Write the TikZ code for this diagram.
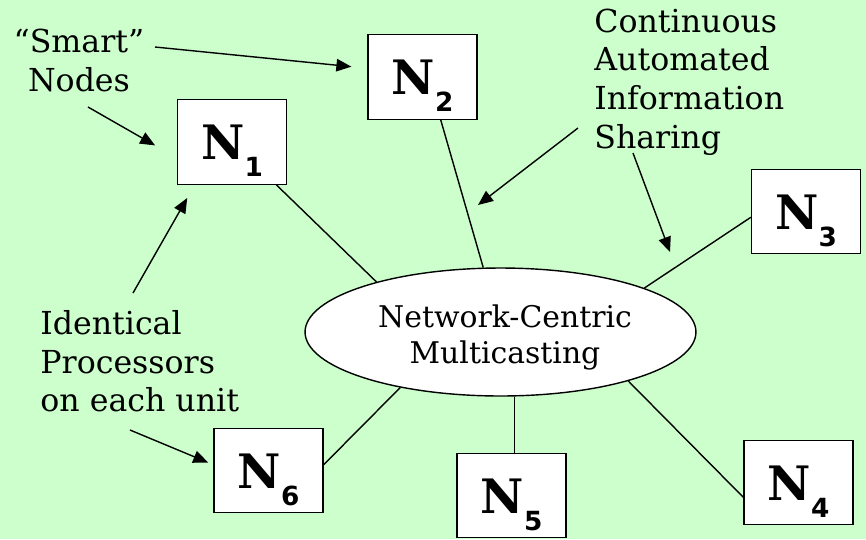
\documentclass[tikz,border=0pt]{standalone}
\usepackage{fontspec}
\setmainfont{DejaVu Serif}
\newfontfamily\idxfont{DejaVu Sans}
\usetikzlibrary{arrows.meta,shapes.geometric}
\definecolor{slidebg}{HTML}{CCFFCC}
\newcommand{\nlab}[1]{{\bfseries N}\raisebox{-0.34cm}{\fontsize{15}{15}\selectfont\idxfont\bfseries #1}}
\tikzset{
  >={Triangle[length=3mm, width=2.5mm]},
  unit/.style={draw, fill=white, line width=0.8pt, minimum width=2.18cm, minimum height=1.69cm, inner sep=0pt, text height=0.7cm, text depth=0pt, font=\fontsize{27}{30}\selectfont},
  hub/.style={draw, ellipse, fill=white, line width=0.8pt, minimum width=7.82cm, minimum height=2.56cm, inner sep=0pt},
  hubtext/.style={inner sep=0pt, align=center, font=\fontsize{17}{20.5}\selectfont},
  note/.style={inner sep=0pt, font=\fontsize{18}{22}\selectfont},
  link/.style={line width=0.8pt},
  pointer/.style={->, line width=0.8pt},
}

\begin{document}
\begin{tikzpicture}[x=0.02cm, y=-0.02cm]
  \fill[slidebg] (0,0) rectangle (866,539);
  \useasboundingbox (0,0) rectangle (866,539);
  % hub and units
  \node[hub] (hub) at (500.5,332) {};
  \node[hubtext] (hubt) at (505,337) {Network-Centric\\Multicasting};
  \node[unit] (n1) at (232,142) {\nlab{1}};
  \node[unit] (n2) at (422.5,77) {\nlab{2}};
  \node[unit] (n3) at (806,211.5) {\nlab{3}};
  \node[unit] (n4) at (798.5,482.5) {\nlab{4}};
  \node[unit] (n5) at (511.5,495.5) {\nlab{5}};
  \node[unit] (n6) at (268.5,470.5) {\nlab{6}};
  % annotations
  \node[note, align=center] (smart) at (79,60.5) {“Smart”\\Nodes};
  \node[note, align=left, anchor=west] (info) at (594,82) {Continuous\\Automated\\Information\\Sharing};
  \node[note, align=left, anchor=west] (ident) at (40,361.5) {Identical\\Processors\\on each unit};
  % links to the hub
  \draw[link] (n1.-44) -- (hub.158);
  \draw[link] (n2.-67) -- (hub.105);
  \draw[link] (n3.186) -- (hub.17);
  \draw[link] (n4.195) -- (hub.-21);
  \draw[link] (hub.-78) -- (hub.-78 |- n5.north);
  \draw[link] (n6.6) -- (hub.209);
  % pointers from the notes
  \coordinate (smartTail) at (155,47);
  \coordinate (nodesTail) at (88,107);
  \coordinate (contTail) at (578,128);
  \coordinate (contTip) at (478,205);
  \coordinate (shareTail) at (633,153);
  \coordinate (shareTip) at (670,252);
  \coordinate (identTail) at (133,293);
  \coordinate (unitTail) at (130,430);
  \draw[pointer, shorten >=0.32cm] (smartTail) -- (n2.171);
  \draw[pointer, shorten >=0.5cm] (nodesTail) -- (n1.196);
  \draw[pointer] (contTail) -- (contTip);
  \draw[pointer] (shareTail) -- (shareTip);
  \draw[pointer, shorten >=0.3cm] (identTail) -- (n1.229);
  \draw[pointer, shorten >=0.11cm] (unitTail) -- (n6.174);
\end{tikzpicture}
\end{document}
